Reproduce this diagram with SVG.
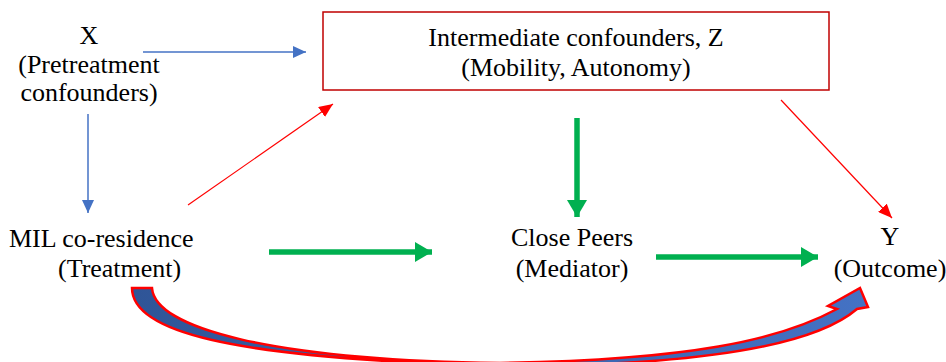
<svg xmlns="http://www.w3.org/2000/svg" width="946" height="362" viewBox="0 0 946 362">
<style>
text{font-family:"Liberation Serif","Times New Roman",serif;font-size:26px;fill:#000}
.c{text-anchor:middle}
.blue{stroke:#4472C4;stroke-width:1.5;fill:none}
.red{stroke:#FF0000;stroke-width:1.2;fill:none}
.green{stroke:#00B050;stroke-width:5.5;fill:none}
</style>
<defs>
<marker id="ab" markerUnits="userSpaceOnUse" markerWidth="14" markerHeight="12" refX="13" refY="6" orient="auto"><path d="M0,0 L13,6 L0,12 Z" fill="#4472C4"/></marker>
<marker id="ar" markerUnits="userSpaceOnUse" markerWidth="15" markerHeight="12" refX="14" refY="6" orient="auto"><path d="M0,0 L14,6 L0,12 Z" fill="#FF0000"/></marker>
<marker id="ag" markerUnits="userSpaceOnUse" markerWidth="18" markerHeight="20" refX="17" refY="10" orient="auto"><path d="M0,0 L17,10 L0,20 Z" fill="#00B050"/></marker>
<linearGradient id="cg" x1="0" y1="0" x2="1" y2="0"><stop offset="0" stop-color="#2F5597"/><stop offset="1" stop-color="#4472C4"/></linearGradient>
</defs>
<g id="node-x">
<text class="c" x="89" y="44">X</text>
<text class="c" x="89" y="73">(Pretreatment</text>
<text class="c" x="89" y="101">confounders)</text>
</g>
<g id="node-z">
<rect x="323" y="12" width="506" height="78" fill="#fff" stroke="#C00000" stroke-width="1.5"/>
<text class="c" x="576" y="46">Intermediate confounders, Z</text>
<text class="c" x="576" y="76">(Mobility, Autonomy)</text>
</g>
<g id="node-treatment">
<text x="9" y="247">MIL co-residence</text>
<text x="58" y="277">(Treatment)</text>
</g>
<g id="node-mediator">
<text class="c" x="572" y="246">Close Peers</text>
<text class="c" x="572" y="277">(Mediator)</text>
</g>
<g id="node-y">
<text class="c" x="890" y="245">Y</text>
<text class="c" x="890" y="277">(Outcome)</text>
</g>
<g id="connectors">
<line class="blue" x1="143" y1="52" x2="306" y2="52" marker-end="url(#ab)"/>
<line class="blue" x1="88" y1="114" x2="88" y2="213" marker-end="url(#ab)"/>
<line class="red" x1="188" y1="205" x2="333" y2="104" marker-end="url(#ar)"/>
<line class="red" x1="781" y1="100" x2="892" y2="218" marker-end="url(#ar)"/>
<line class="green" x1="577" y1="118" x2="577" y2="217" marker-end="url(#ag)"/>
<line class="green" x1="269" y1="252" x2="432" y2="252" marker-end="url(#ag)"/>
<line class="green" x1="656" y1="257" x2="818" y2="257" marker-end="url(#ag)"/>
<path d="M132,288 C132,330 220,358 500,366 C700,366 815,345 857,309 L868,307 L860,288 L828,306 L837,309 C780,340 690,360 500,363 C270,360 155,328 152,288 Z" fill="url(#cg)" stroke="#FF0000" stroke-width="2.5" stroke-linejoin="miter"/>
</g>
</svg>
